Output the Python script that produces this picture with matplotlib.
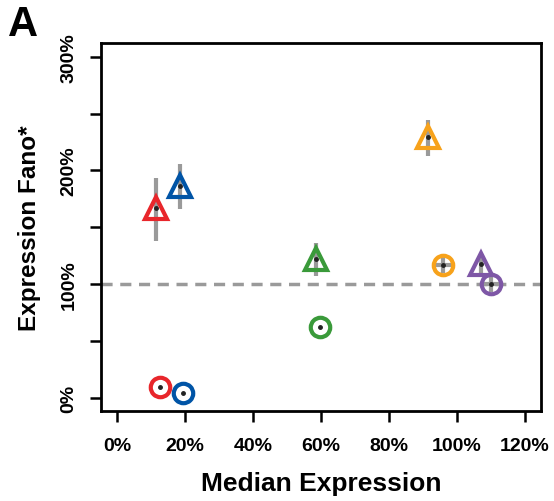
import matplotlib
matplotlib.use("Agg")
import matplotlib.pyplot as plt
import numpy as np

plt.rcParams['font.family'] = ['Liberation Sans', 'DejaVu Sans']
plt.rcParams['font.weight'] = 'bold'

# data (percent)
colors = ['#E8262B', '#0054A6', '#3A9A3A', '#F7A21B', '#7E57A6']

tri_x = [11.5, 18.5, 58.5, 91.5, 107.0]
tri_y = [167, 186, 122, 229, 118]
tri_lo = [138, 166, 107, 213, 109]
tri_hi = [193, 206, 136, 244, 126]

circ_x = [12.6, 19.4, 59.7, 96.0, 110.0]
circ_y = [9.7, 4.4, 62, 117, 100]
circ_ylo = [9.7, 4.4, 62, 110, 93]
circ_yhi = [9.7, 4.4, 62, 124, 107]
circ_xlo = [12.6, 19.4, 59.7, 93.5, 107.6]
circ_xhi = [12.6, 19.4, 59.7, 98.5, 112.6]

xticks = [0, 20, 40, 60, 80, 100, 120]
yticks = [0, 50, 100, 150, 200, 250, 300]
ylabels = ['0%', '', '100%', '', '200%', '', '300%']

fig = plt.figure(figsize=(5.54, 5.02), dpi=100)
ax = fig.add_axes([0.1823, 0.1793, 0.7942, 0.7331])

err = '#9A9A9A'
ax.axhline(100, color=err, lw=2.5, ls=(0, (3.2, 2.2)), zorder=1)
ax.vlines(tri_x, tri_lo, tri_hi, color=err, lw=3, zorder=2)
ax.vlines(circ_x, circ_ylo, circ_yhi, color=err, lw=3, zorder=2)
ax.hlines(circ_y, circ_xlo, circ_xhi, color=err, lw=3, zorder=2)

for i in range(len(colors)):
    ax.plot(tri_x[i], tri_y[i], marker='^', ms=16, mfc='none', mec=colors[i], mew=3, zorder=3)
    ax.plot(circ_x[i], circ_y[i], marker='o', ms=14, mfc='none', mec=colors[i], mew=3, zorder=3)
ax.plot(tri_x, tri_y, ls='none', marker='o', ms=2.5, color='#222222', zorder=4)
ax.plot(circ_x, circ_y, ls='none', marker='o', ms=2.5, color='#222222', zorder=4)

ax.set_xlim(-4.7, 124.7)
ax.set_ylim(-11.4, 312)
ax.set_xticks(xticks)
ax.set_xticklabels([f'{t}%' for t in xticks], fontsize=14, fontweight='bold')
ax.set_yticks(yticks)
ax.set_yticklabels(ylabels, fontsize=14, fontweight='bold', rotation=90, va='center')
ax.tick_params(axis='x', length=8, width=1.8, direction='out', pad=11)
ax.tick_params(axis='y', length=8, width=1.8, direction='out', pad=9)
for s in ax.spines.values():
    s.set_linewidth(2)

ax.set_xlabel('Median Expression', fontsize=19, fontweight='bold', labelpad=12)
ax.set_ylabel('Expression Fano*', fontsize=17.5, fontweight='bold', labelpad=14)
fig.text(0.015, 0.99, 'A', fontsize=30, fontweight='bold', va='top', ha='left')

fig.savefig('out.png', dpi=100)
